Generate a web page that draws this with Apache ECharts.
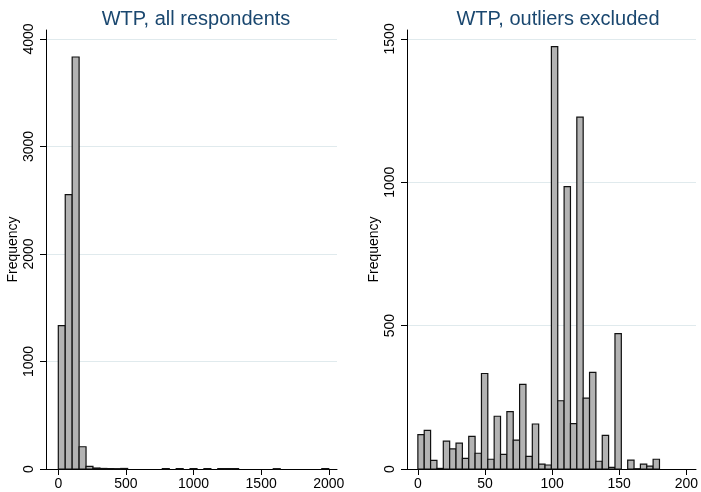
<!DOCTYPE html>
<html>
<head>
<meta charset="utf-8">
<script src="https://cdn.jsdelivr.net/npm/echarts@6/dist/echarts.min.js"></script>
<style>html,body{margin:0;padding:0;background:#fff;}#c{width:701px;height:492px;}</style>
</head>
<body>
<div id="c"></div>
<script>
// Left panel: all respondents, 39 bins over 0..2000
const leftTitle = 'WTP, all respondents';
const leftBinStart = 0, leftBinEnd = 2000;
const leftCounts = [1333, 2552, 3833, 207, 25, 9, 5, 4, 3, 5, 0, 0, 0, 0, 0, 4, 0, 4, 0, 4, 0, 4, 0, 4, 4, 4, 0, 0, 0, 0, 0, 3, 0, 0, 0, 0, 0, 0, 4];
const leftXTicks = [0, 500, 1000, 1500, 2000];
const leftYTicks = [0, 1000, 2000, 3000, 4000];

// Right panel: outliers excluded, 38 bins over 0..180
const rightTitle = 'WTP, outliers excluded';
const rightBinStart = 0, rightBinEnd = 180;
const rightCounts = [120, 135, 30, 2, 97, 70, 90, 37, 114, 55, 333, 34, 184, 51, 200, 101, 295, 44, 157, 17, 14, 1473, 238, 985, 158, 1227, 247, 337, 27, 117, 6, 472, 0, 31, 1, 17, 10, 34];
const rightXTicks = [0, 50, 100, 150, 200];
const rightYTicks = [0, 500, 1000, 1500];

const yName = 'Frequency';

function binData(counts, start, end) {
  const w = (end - start) / counts.length;
  return counts.map((c, i) => [start + i * w, start + (i + 1) * w, c]);
}

const FONT = 'Liberation Sans, Arial, sans-serif';
const chart = echarts.init(document.getElementById('c'), null, {renderer: 'canvas'});

function renderBar(params, api) {
  const c = api.value(2);
  if (!c) return null;
  const p0 = api.coord([api.value(0), 0]);
  const p1 = api.coord([api.value(1), c]);
  return {
    type: 'rect',
    shape: {x: p0[0], y: p1[1], width: p1[0] - p0[0], height: p0[1] - p1[1]},
    style: {fill: '#b3b3b3', stroke: '#111', lineWidth: 1.2}
  };
}

const plain = v => String(v);

function xAxis(gi, min, max, ticks) {
  return {
    gridIndex: gi, type: 'value', min: min, max: max,
    axisLine: {show: true, onZero: false, lineStyle: {color: '#000', width: 1}},
    axisTick: {show: true, length: 6, customValues: ticks, lineStyle: {color: '#000'}},
    axisLabel: {customValues: ticks, formatter: plain, color: '#000', fontSize: 14, fontFamily: FONT, margin: 8},
    splitLine: {show: false}
  };
}
function yAxis(gi, max, ticks) {
  return {
    gridIndex: gi, type: 'value', min: 0, max: max,
    name: yName, nameLocation: 'middle', nameGap: 26,
    nameTextStyle: {color: '#000', fontSize: 14, fontFamily: FONT},
    axisLine: {show: true, onZero: false, lineStyle: {color: '#000', width: 1}},
    axisTick: {show: true, length: 6, customValues: ticks, lineStyle: {color: '#000'}},
    axisLabel: {customValues: ticks, formatter: plain, rotate: 90, color: '#000', fontSize: 14, fontFamily: FONT, margin: 10},
    splitLine: {show: true, lineStyle: {color: '#e0eaed', width: 1}}
  };
}

chart.setOption({
  backgroundColor: '#ffffff',
  animation: false,
  title: [
    {text: leftTitle, left: 191, top: 4, textAlign: 'center',
     textStyle: {color: '#1a476f', fontSize: 20, fontWeight: 'normal', fontFamily: FONT}},
    {text: rightTitle, left: 553, top: 4, textAlign: 'center',
     textStyle: {color: '#1a476f', fontSize: 20, fontWeight: 'normal', fontFamily: FONT}}
  ],
  grid: [
    {left: 46, top: 30, width: 291, height: 439},
    {left: 407, top: 30, width: 292, height: 439}
  ],
  xAxis: [xAxis(0, -91, 2061, leftXTicks), xAxis(1, -8.1, 207.2, rightXTicks)],
  yAxis: [yAxis(0, 4084, leftYTicks), yAxis(1, 1531, rightYTicks)],
  series: [
    {type: 'custom', xAxisIndex: 0, yAxisIndex: 0, renderItem: renderBar,
     encode: {x: [0, 1], y: 2}, data: binData(leftCounts, leftBinStart, leftBinEnd)},
    {type: 'custom', xAxisIndex: 1, yAxisIndex: 1, renderItem: renderBar,
     encode: {x: [0, 1], y: 2}, data: binData(rightCounts, rightBinStart, rightBinEnd)}
  ]
});
</script>
</body>
</html>
